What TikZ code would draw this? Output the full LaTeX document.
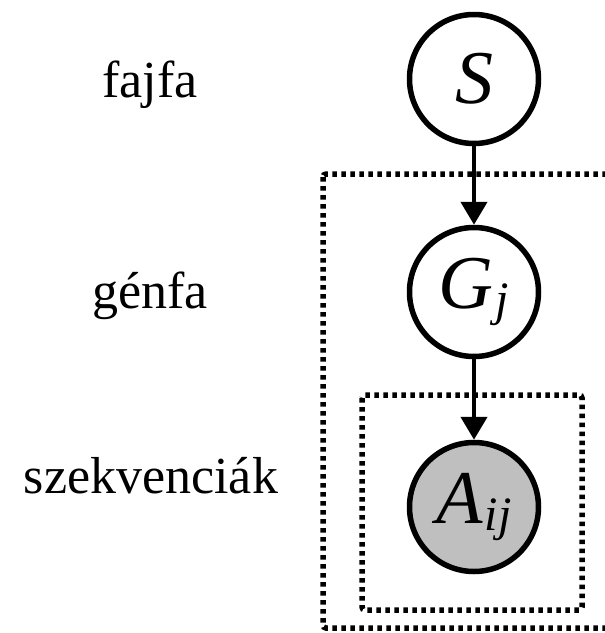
\documentclass[tikz,border=0pt]{standalone}
\usepackage{fontspec}
\setmainfont{Liberation Serif}
\usetikzlibrary{arrows.meta}
\newcommand{\lowsub}[1]{\kern2pt\raisebox{-7pt}{\fontsize{48}{48}\selectfont #1}}
\begin{document}
\begin{tikzpicture}[x=1pt,y=-1pt,
  var/.style={circle,draw,line width=5.5pt,minimum size=129pt,inner sep=0pt,
    font=\fontsize{76}{80}\selectfont\itshape},
  obs/.style={var,fill=black!25},
  label/.style={font=\fontsize{52}{60}\selectfont,anchor=base},
  edge/.style={line width=4.5pt,-{Triangle[width=26pt,length=23pt]}},
  plate/.style={line width=5.5pt,dash pattern=on 4.5pt off 4.5pt,rounded corners=3pt}]
  \clip (0,0) rectangle (605,633);
  \fill[white] (0,0) rectangle (605,633);

  % plates
  \draw[plate] (323,174) rectangle (640,628);
  \draw[plate] (362,395) rectangle (582,610);

  % variables
  \node[var] (S) at (474,79) {S};
  \node[var] (G) at (474,292) {G\lowsub{j}};
  \node[obs] (A) at (474,507) {A\lowsub{ij}};

  \draw[edge] (S) -- (G);
  \draw[edge] (G) -- (A);

  % level labels
  \node[label] (lS) at (150,97) {fajfa};
  \node[label] (lG) at (150,308) {génfa};
  \node[label] (lA) at (151,493) {szekvenciák};
\end{tikzpicture}
\end{document}
